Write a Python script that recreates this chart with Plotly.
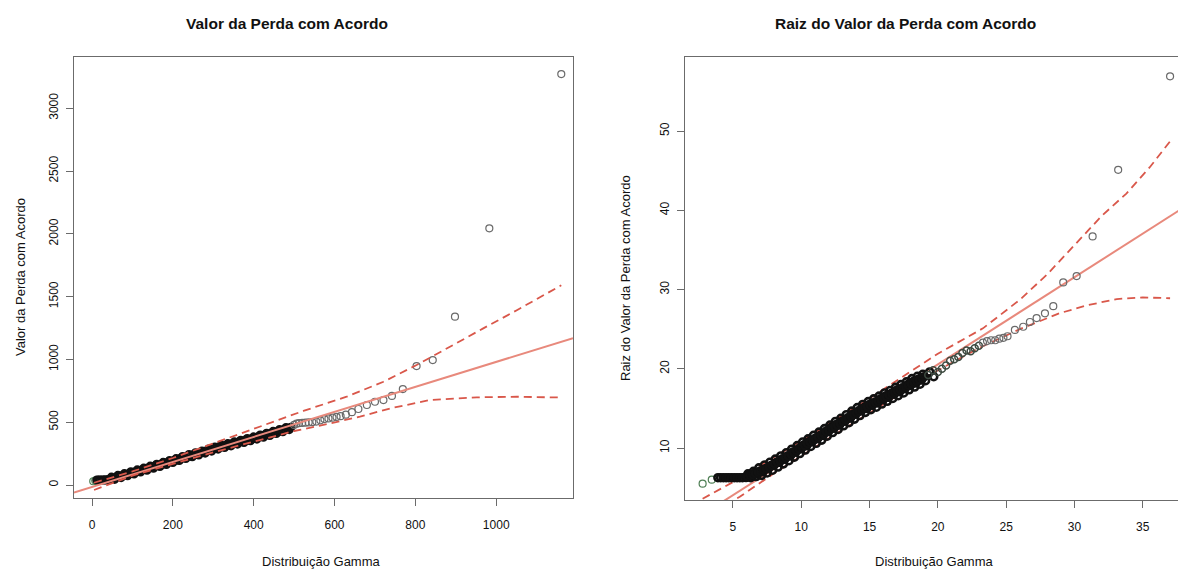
import plotly.graph_objects as go

W, H = 1178, 569

# ---------------- Left panel: Valor da Perda com Acordo ----------------
left_title = "Valor da Perda com Acordo"
left_xlabel = "Distribuição Gamma"
left_ylabel = "Valor da Perda com Acordo"
left_xticks = [0, 200, 400, 600, 800, 1000]
left_yticks = [0, 500, 1000, 1500, 2000, 2500, 3000]
left_xrange = [-44.6, 1190]
left_yrange = [-103.5, 3408]

left_first_x = [3, 8]
left_first_y = [30, 36]
left_dense_x = [12, 16, 20, 24, 28, 32, 36, 40,
                44, 52, 60, 68, 76, 84, 92, 100, 108, 116, 124, 132, 140, 148, 156, 164,
                172, 180, 188, 196, 204, 212, 220, 228, 236, 244, 252, 260, 268, 276, 284,
                292, 300, 308, 316, 324, 332, 340, 348, 356, 364, 372, 380, 388, 396, 404,
                412, 420, 428, 436, 444, 452, 460, 468, 476, 484, 492]
left_dense_y = [39, 39, 40, 39, 40, 41, 40, 42,
                47, 52, 62, 66, 76, 80, 91, 95, 106, 110, 121, 124, 137, 140, 152, 155,
                166, 170, 182, 185, 197, 200, 214, 217, 229, 232, 243, 245, 257, 260, 272,
                275, 289, 291, 305, 306, 316, 318, 330, 333, 344, 345, 357, 359, 371, 372,
                385, 387, 400, 401, 414, 416, 428, 430, 443, 447, 460]
left_dense2_x = [48, 56, 64, 72, 80, 88, 96, 104, 112, 120, 128, 136, 144, 152, 160, 168,
                 176, 184, 192, 200, 208, 216, 224, 232, 240, 248, 256, 264, 272, 280, 288,
                 296, 304, 312, 320, 328, 336, 344, 352, 360, 368, 376, 384, 392, 400, 408,
                 416, 424, 432, 440, 448, 456, 464, 472, 480, 488]
left_dense2_y = [62, 45, 76, 59, 90, 74, 105, 88, 120, 104, 134, 118, 150, 134, 165, 148,
                 180, 164, 195, 179, 210, 195, 227, 211, 242, 225, 256, 239, 270, 254, 285,
                 270, 302, 286, 317, 299, 329, 312, 343, 326, 356, 339, 370, 353, 383, 366,
                 398, 381, 412, 395, 427, 410, 441, 424, 457, 441]
left_tail_x = [500, 506, 512, 520, 528, 536, 545, 555, 565, 575, 585, 595, 605, 615,
               628, 643, 659, 680, 700, 721, 742, 769, 803, 843, 898, 983, 1161]
left_tail_y = [478, 488, 492, 494, 496, 498, 500, 505, 515, 525, 530, 536, 542, 548,
               560, 580, 605, 637, 663, 676, 709, 764, 947, 995, 1340, 2044, 3272]

left_env_up_x = [5, 100, 200, 300, 400, 523, 630, 721, 803, 900, 968, 1050, 1146, 1161]
left_env_up_y = [18, 108, 215, 330, 445, 590, 703, 822, 955, 1130, 1247, 1390, 1558, 1590]
left_env_lo_x = [5, 100, 200, 300, 400, 500, 560, 663, 738, 837, 952, 1051, 1134, 1161]
left_env_lo_y = [-40, 75, 168, 260, 345, 430, 470, 544, 610, 677, 698, 703, 698, 697]
left_line_intercept = -15
left_line_slope = 0.995

# ---------------- Right panel: Raiz do Valor da Perda com Acordo ----------------
right_title = "Raiz do Valor da Perda com Acordo"
right_xlabel = "Distribuição Gamma"
right_ylabel = "Raiz do Valor da Perda com Acordo"
right_xticks = [5, 10, 15, 20, 25, 30, 35]
right_yticks = [10, 20, 30, 40, 50]
right_xrange = [1.49, 37.58]
right_yrange = [3.44, 59.34]

right_first_x = [2.78, 3.45]
right_first_y = [5.5, 6.0]
right_dense_x = [3.9, 4.1, 4.3, 4.5, 4.7, 4.9, 5.1, 5.3, 5.5, 5.7, 5.9,
                 6.0, 6.2, 6.4, 6.6, 6.8, 7.0, 7.2, 7.4, 7.6, 7.8, 8.0, 8.2, 8.4, 8.6, 8.8,
                 9.0, 9.2, 9.4, 9.6, 9.8, 10.0, 10.2, 10.4, 10.6, 10.8, 11.0, 11.2, 11.4,
                 11.6, 11.8, 12.0, 12.2, 12.4, 12.6, 12.8, 13.0, 13.2, 13.4, 13.6, 13.8,
                 14.0, 14.2, 14.4, 14.6, 14.8, 15.0, 15.2, 15.4, 15.6, 15.8, 16.0, 16.2,
                 16.4, 16.6, 16.8, 17.0, 17.2, 17.4, 17.6, 17.8, 18.0, 18.2, 18.4, 18.6,
                 18.8, 19.0]
right_dense_y = [6.25, 6.25, 6.25, 6.25, 6.25, 6.25, 6.25, 6.25, 6.25, 6.25, 6.3,
                 6.3, 6.6, 6.4, 6.8, 6.7, 7.1, 7.0, 7.4, 7.4, 7.8, 7.8, 8.2, 8.2, 8.6, 8.6,
                 9.0, 9.0, 9.5, 9.5, 9.9, 9.9, 10.4, 10.3, 10.8, 10.8, 11.2, 11.2, 11.6,
                 11.6, 12.1, 12.1, 12.6, 12.5, 13.0, 12.9, 13.4, 13.4, 13.8, 13.8, 14.3,
                 14.3, 14.7, 14.7, 15.1, 15.0, 15.5, 15.4, 15.8, 15.7, 16.2, 16.1, 16.6,
                 16.4, 16.9, 16.8, 17.3, 17.1, 17.6, 17.5, 18.0, 17.9, 18.4, 18.2, 18.7,
                 18.6, 19.0]
right_dense2_x = [6.1, 6.3, 6.5, 6.7, 6.9, 7.1, 7.3, 7.5, 7.7, 7.9, 8.1, 8.3, 8.5, 8.7,
                  8.9, 9.1, 9.3, 9.5, 9.7, 9.9, 10.1, 10.3, 10.5, 10.7, 10.9, 11.1, 11.3,
                  11.5, 11.7, 11.9, 12.1, 12.3, 12.5, 12.7, 12.9, 13.1, 13.3, 13.5, 13.7,
                  13.9, 14.1, 14.3, 14.5, 14.7, 14.9, 15.1, 15.3, 15.5, 15.7, 15.9, 16.1,
                  16.3, 16.5, 16.7, 16.9, 17.1, 17.3, 17.5, 17.7, 17.9, 18.1, 18.3, 18.5,
                  18.7, 18.9, 19.1, 19.4, 19.7]
right_dense2_y = [6.75, 6.25, 7.05, 6.4, 7.5, 6.55, 7.85, 6.85, 8.2, 7.2, 8.6, 7.6, 9.0, 8.0,
                  9.4, 8.4, 9.85, 8.85, 10.3, 9.3, 10.75, 9.75, 11.15, 10.2, 11.6, 10.6, 12.0,
                  11.0, 12.45, 11.5, 12.9, 11.95, 13.35, 12.35, 13.75, 12.8, 14.2, 13.2, 14.65,
                  13.65, 15.1, 14.1, 15.5, 14.5, 15.85, 14.85, 16.2, 15.15, 16.55, 15.55, 16.95,
                  15.9, 17.25, 16.25, 17.65, 16.6, 18.0, 16.95, 18.35, 17.35, 18.75, 17.7, 19.05,
                  18.05, 19.3, 18.5, 19.6, 19.0]
right_dense3_x = [6.05, 6.25, 6.45, 6.65, 6.85, 7.05, 7.25, 7.45, 7.65, 7.85, 8.05, 8.25,
                  8.45, 8.65, 8.85, 9.05, 9.25, 9.45, 9.65, 9.85, 10.05, 10.25, 10.45, 10.65,
                  10.85, 11.05, 11.25, 11.45, 11.65, 11.85, 12.05, 12.25, 12.45, 12.65, 12.85,
                  13.05, 13.25, 13.45, 13.65, 13.85, 14.05, 14.25, 14.45, 14.65, 14.85, 15.05,
                  15.25, 15.45, 15.65, 15.85, 16.05, 16.25, 16.45, 16.65, 16.85, 17.05, 17.25,
                  17.45, 17.65, 17.85, 18.05, 18.25, 18.45, 18.65, 18.85]
right_dense3_y = [6.4, 6.55, 6.65, 6.8, 6.95, 7.05, 7.25, 7.4, 7.6, 7.8, 8.0, 8.2,
                  8.4, 8.6, 8.8, 9.0, 9.2, 9.45, 9.65, 9.9, 10.1, 10.3, 10.55, 10.75,
                  10.95, 11.15, 11.35, 11.6, 11.8, 12.05, 12.25, 12.5, 12.7, 12.9, 13.1,
                  13.35, 13.55, 13.75, 14.0, 14.2, 14.45, 14.65, 14.85, 15.05, 15.2, 15.4,
                  15.55, 15.75, 15.9, 16.1, 16.3, 16.45, 16.65, 16.8, 17.0, 17.2, 17.35,
                  17.5, 17.7, 17.9, 18.1, 18.3, 18.45, 18.6, 18.8]
right_mid_x = [19.3, 19.66, 20.0, 20.3, 20.6, 20.9, 21.2, 21.5, 21.8, 22.1, 22.4, 22.7, 23.0]
right_mid_y = [19.2, 19.8, 19.6, 20.0, 20.4, 21.0, 21.2, 21.5, 22.0, 22.3, 22.2, 22.6, 22.9]
right_tail_x = [23.3, 23.6, 23.9, 24.2, 24.5, 24.8, 25.1, 25.64, 26.25, 26.74, 27.23,
                27.84, 28.45, 29.18, 30.16, 31.33, 33.2, 37.0]
right_tail_y = [23.3, 23.5, 23.6, 23.6, 23.8, 23.9, 24.1, 24.9, 25.3, 25.9, 26.4,
                27.0, 27.9, 30.9, 31.7, 36.7, 45.1, 56.9]

right_env_up_x = [2.78, 4.0, 5.0, 7.0, 10.0, 14.5, 17.2, 20.0, 23.3, 26.0, 28.0, 29.9, 32.0, 33.8, 35.5, 37.0]
right_env_up_y = [3.6, 4.7, 5.7, 7.8, 10.9, 15.7, 18.7, 21.9, 25.1, 28.7, 31.9, 35.4, 39.3, 42.1, 45.4, 48.7]
right_env_lo_x = [2.78, 4.0, 5.5, 8.0, 12.0, 16.5, 20.0, 23.0, 26.0, 28.9, 30.9, 33.1, 35.0, 37.0]
right_env_lo_y = [1.4, 2.4, 3.85, 6.8, 11.2, 16.1, 19.8, 22.6, 25.0, 27.0, 28.0, 28.8, 29.0, 28.9]
right_line_intercept = -1.45
right_line_slope = 1.1

# ---------------- styling ----------------
FONT = "Liberation Sans, Arial, Helvetica, sans-serif"
LINE_COL = "#e8897c"
ENV_COL = "#d9574a"
PT_DARK = "#111111"
PT_MID = "#3d4a40"
PT_GREY = "#6a6a6a"
PT_GREEN = "#4f7f55"


def pts(x, y, color, xa, ya, size=7, lw=1.2):
    return go.Scatter(x=x, y=y, mode="markers", xaxis=xa, yaxis=ya, showlegend=False,
                      hoverinfo="skip",
                      marker=dict(symbol="circle-open", size=size,
                                  color=color, line=dict(width=lw, color=color)))


def line(x, y, color, xa, ya, dash="solid", width=2.0):
    return go.Scatter(x=x, y=y, mode="lines", xaxis=xa, yaxis=ya, showlegend=False,
                      hoverinfo="skip", line=dict(color=color, width=width, dash=dash))


fig = go.Figure()

# Left panel: points first, then reference line and envelope
fig.add_trace(pts(left_first_x, left_first_y, PT_GREEN, "x", "y"))
fig.add_trace(pts(left_dense_x, left_dense_y, PT_DARK, "x", "y", lw=2.2))
fig.add_trace(pts(left_dense2_x, left_dense2_y, PT_DARK, "x", "y", lw=2.2))
fig.add_trace(pts(left_tail_x, left_tail_y, PT_GREY, "x", "y"))
lx = list(left_xrange)
fig.add_trace(line(lx, [left_line_intercept + left_line_slope * v for v in lx], LINE_COL, "x", "y"))
fig.add_trace(line(left_env_up_x, left_env_up_y, ENV_COL, "x", "y", dash="8px,5px", width=1.8))
fig.add_trace(line(left_env_lo_x, left_env_lo_y, ENV_COL, "x", "y", dash="8px,5px", width=1.8))

# Right panel: lines first, then points on top
rx = [right_xrange[0], right_xrange[1] + 2]
fig.add_trace(line(rx, [right_line_intercept + right_line_slope * v for v in rx], LINE_COL, "x2", "y2"))
fig.add_trace(line(right_env_up_x, right_env_up_y, ENV_COL, "x2", "y2", dash="8px,5px", width=1.8))
fig.add_trace(line(right_env_lo_x, right_env_lo_y, ENV_COL, "x2", "y2", dash="8px,5px", width=1.8))
fig.add_trace(pts(right_first_x, right_first_y, PT_GREEN, "x2", "y2"))
fig.add_trace(pts(right_dense_x, right_dense_y, PT_DARK, "x2", "y2", lw=2.6))
fig.add_trace(pts(right_dense2_x, right_dense2_y, PT_DARK, "x2", "y2", lw=2.6))
fig.add_trace(pts(right_dense3_x, right_dense3_y, PT_DARK, "x2", "y2", lw=2.6))
fig.add_trace(pts(right_mid_x, right_mid_y, PT_MID, "x2", "y2", lw=1.5))
fig.add_trace(pts(right_tail_x, right_tail_y, PT_GREY, "x2", "y2"))

axis_common = dict(showgrid=False, zeroline=False, showline=True, linecolor="#6b6b6b",
                   linewidth=1, ticks="outside", ticklen=7, tickcolor="#6b6b6b", tickwidth=1,
                   tickfont=dict(family=FONT, size=12, color="#111111"), fixedrange=True)

fig.update_layout(
    width=W, height=H, autosize=False,
    margin=dict(l=0, r=0, t=0, b=0),
    paper_bgcolor="white", plot_bgcolor="white",
    xaxis=dict(axis_common, domain=[74 / W, 573 / W], range=left_xrange, tickvals=left_xticks,
               anchor="y", mirror=True, ticklabelstandoff=9),
    yaxis=dict(axis_common, domain=[1 - 498 / H, 1 - 57 / H], range=left_yrange,
               tickvals=left_yticks, anchor="x", mirror=True, tickangle=-90, ticklabelstandoff=3),
    xaxis2=dict(axis_common, domain=[685 / W, 1.0], range=right_xrange, tickvals=right_xticks,
                anchor="y2", mirror=True, ticklabelstandoff=9),
    yaxis2=dict(axis_common, domain=[1 - 500 / H, 1 - 57 / H], range=right_yrange,
                tickvals=right_yticks, anchor="x2", mirror=False, tickangle=-90, ticklabelstandoff=3),
)


def ann(text, px, py, size, bold=False, angle=0):
    return dict(text=("<b>%s</b>" % text) if bold else text, x=px / W, y=1 - py / H,
                xref="paper", yref="paper", showarrow=False, textangle=angle,
                xanchor="center", yanchor="middle",
                font=dict(family=FONT, size=size, color="#111111"))


fig.update_layout(annotations=[
    ann(left_title, 287, 23, 15.5, bold=True),
    ann(right_title, 905, 23, 15.5, bold=True),
    ann(left_xlabel, 321, 561, 13),
    ann(right_xlabel, 934, 561, 13),
    ann(left_ylabel, 21, 277, 13, angle=-90),
    ann(right_ylabel, 625, 278, 13, angle=-90),
])

fig.write_html("out.html", config={"displayModeBar": False},
               post_script="document.body.style.margin='0px';document.body.style.overflow='hidden';")
